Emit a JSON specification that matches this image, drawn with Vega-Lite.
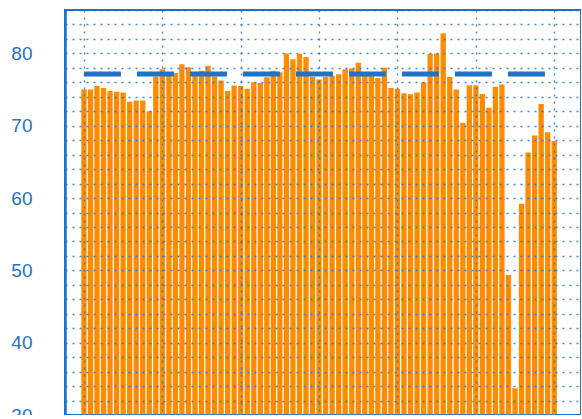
{
  "$schema": "https://vega.github.io/schema/vega-lite/v6.json",
  "autosize": {"type": "none"},
  "padding": {"left": 65, "top": 10, "right": 0, "bottom": 0},
  "width": 516,
  "height": 405,
  "background": "white",
  "config": {
    "view": {"stroke": "#1f72c8", "strokeWidth": 2},
    "font": "Liberation Sans"
  },
  "datasets": {
    "bars": [
      {"i": 0, "v": 75.0}, {"i": 1, "v": 75.0}, {"i": 2, "v": 75.5}, {"i": 3, "v": 75.2},
      {"i": 4, "v": 74.8}, {"i": 5, "v": 74.7}, {"i": 6, "v": 74.6}, {"i": 7, "v": 73.3},
      {"i": 8, "v": 73.5}, {"i": 9, "v": 73.5}, {"i": 10, "v": 72.0}, {"i": 11, "v": 76.8},
      {"i": 12, "v": 77.8}, {"i": 13, "v": 77.3}, {"i": 14, "v": 77.3}, {"i": 15, "v": 78.5},
      {"i": 16, "v": 78.1}, {"i": 17, "v": 77.4}, {"i": 18, "v": 77.6}, {"i": 19, "v": 78.3},
      {"i": 20, "v": 76.8}, {"i": 21, "v": 76.25}, {"i": 22, "v": 74.8}, {"i": 23, "v": 75.55},
      {"i": 24, "v": 75.5}, {"i": 25, "v": 75.1}, {"i": 26, "v": 76.0}, {"i": 27, "v": 75.9},
      {"i": 28, "v": 76.7}, {"i": 29, "v": 77.6}, {"i": 30, "v": 77.4}, {"i": 31, "v": 80.0},
      {"i": 32, "v": 79.2}, {"i": 33, "v": 79.9}, {"i": 34, "v": 79.5}, {"i": 35, "v": 76.75},
      {"i": 36, "v": 76.4}, {"i": 37, "v": 76.75}, {"i": 38, "v": 76.9}, {"i": 39, "v": 77.1},
      {"i": 40, "v": 77.8}, {"i": 41, "v": 77.9}, {"i": 42, "v": 78.7}, {"i": 43, "v": 77.0},
      {"i": 44, "v": 76.9}, {"i": 45, "v": 76.6}, {"i": 46, "v": 78.0}, {"i": 47, "v": 75.2},
      {"i": 48, "v": 75.1}, {"i": 49, "v": 74.5}, {"i": 50, "v": 74.35}, {"i": 51, "v": 74.6},
      {"i": 52, "v": 76.0}, {"i": 53, "v": 79.9}, {"i": 54, "v": 80.0}, {"i": 55, "v": 82.8},
      {"i": 56, "v": 76.75}, {"i": 57, "v": 75.0}, {"i": 58, "v": 70.4}, {"i": 59, "v": 75.6},
      {"i": 60, "v": 75.6}, {"i": 61, "v": 74.4}, {"i": 62, "v": 72.5}, {"i": 63, "v": 75.4},
      {"i": 64, "v": 75.7}, {"i": 65, "v": 49.35}, {"i": 66, "v": 33.7}, {"i": 67, "v": 59.2},
      {"i": 68, "v": 66.3}, {"i": 69, "v": 68.65}, {"i": 70, "v": 73.0}, {"i": 71, "v": 69.1},
      {"i": 72, "v": 67.9}
    ],
    "avg": [{"start": 0, "end": 72, "v": 77.15}]
  },
  "layer": [
    {
      "data": {"name": "bars"},
      "mark": {"type": "bar", "size": 5.3, "color": "#ff8c00", "clip": true},
      "encoding": {
        "x": {
          "field": "i", "type": "quantitative",
          "scale": {"domain": [-2.9, 76.1], "nice": false, "zero": false, "padding": 0},
          "axis": {
            "title": null, "labels": false, "ticks": false, "tickCount": 100,
            "values": [0, 12, 24, 36, 48, 60, 72],
            "domain": true, "domainColor": "#1f72c8", "domainWidth": 2.5,
            "grid": true, "gridColor": "#1f72c8", "gridDash": [2, 5], "gridWidth": 1.4, "gridOpacity": 0.85,
            "zindex": 1
          }
        },
        "y": {
          "field": "v", "type": "quantitative",
          "scale": {"domain": [30, 86], "nice": false, "zero": false},
          "axis": {
            "title": null, "ticks": false, "tickCount": 100, "format": "d",
            "values": [30, 32, 34, 36, 38, 40, 42, 44, 46, 48, 50, 52, 54, 56, 58, 60, 62, 64, 66, 68, 70, 72, 74, 76, 78, 80, 82, 84, 86],
            "labelExpr": "datum.value % 10 === 0 ? datum.label : ''",
            "labelFontSize": 19, "labelColor": "#1f72c8", "labelPadding": 33,
            "labelFont": "Liberation Sans",
            "domain": true, "domainColor": "#1f72c8", "domainWidth": 2.5,
            "grid": true, "gridColor": "#1f72c8", "gridDash": [2, 5], "gridWidth": 1.4, "gridOpacity": 0.85,
            "zindex": 1
          }
        },
        "y2": {"datum": 30}
      }
    },
    {
      "data": {"name": "avg"},
      "mark": {"type": "rule", "color": "#1f72c8", "strokeWidth": 5, "strokeDash": [37, 16], "strokeCap": "butt"},
      "encoding": {
        "x": {"field": "start", "type": "quantitative"},
        "x2": {"field": "end"},
        "y": {"field": "v", "type": "quantitative"}
      }
    }
  ]
}
